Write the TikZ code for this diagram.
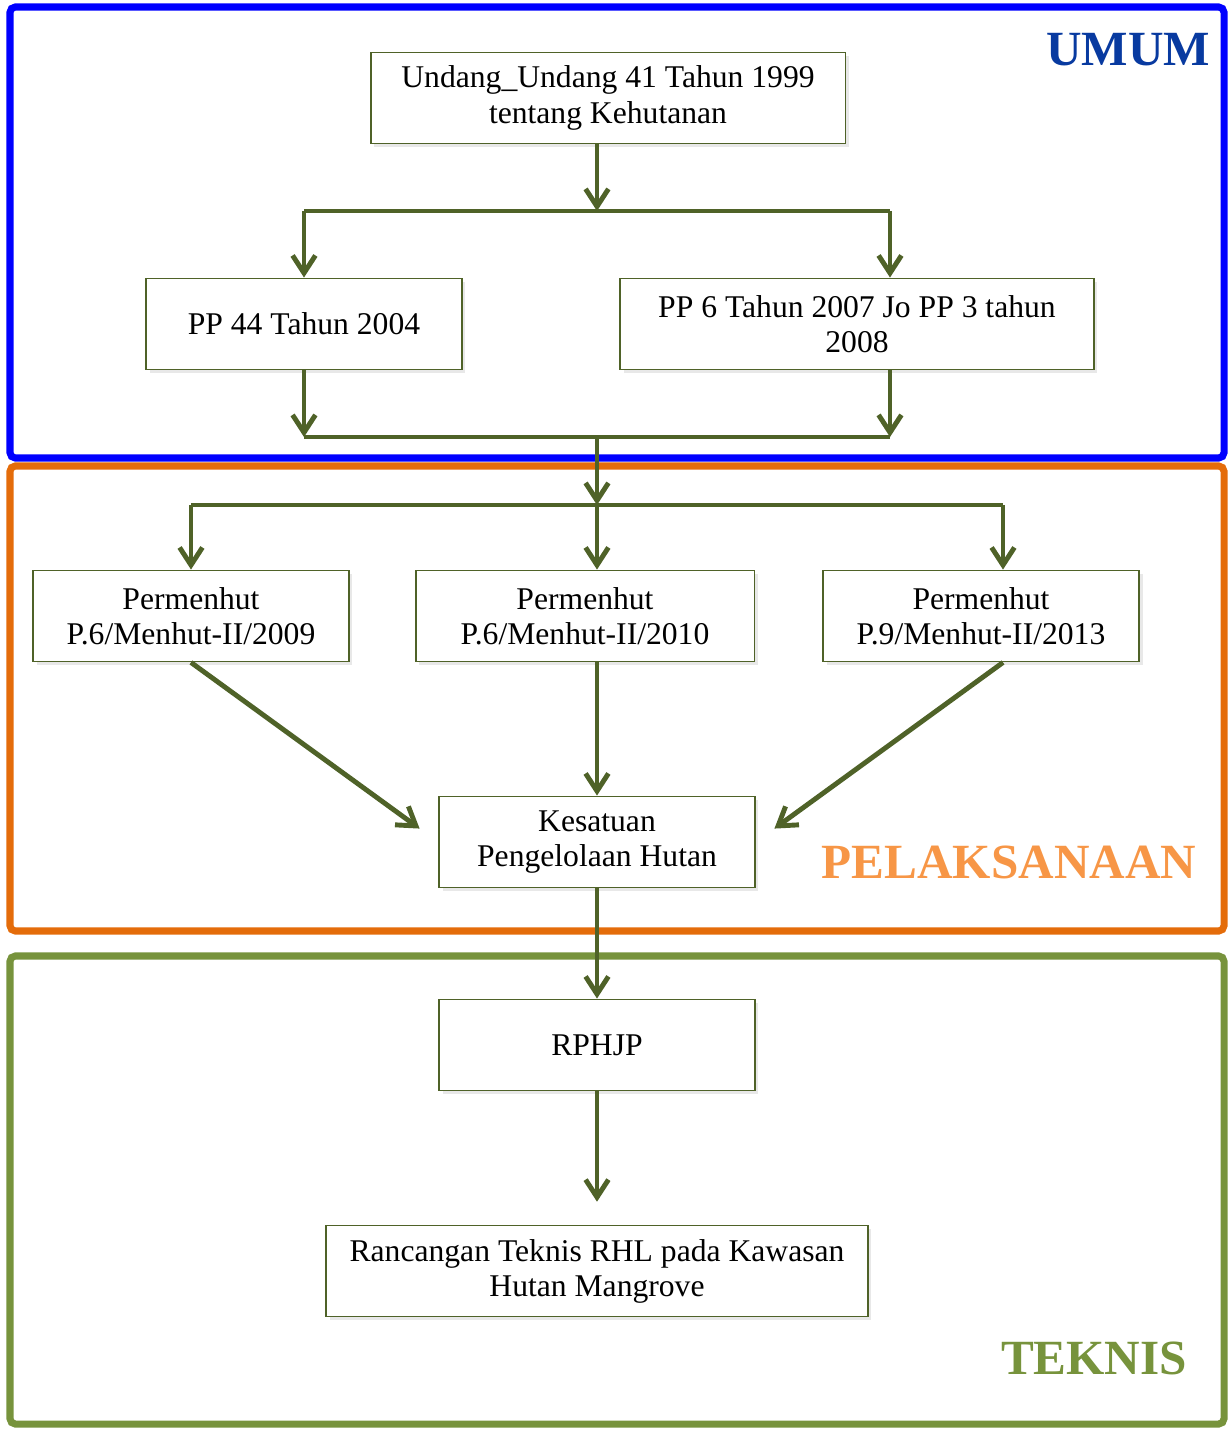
\documentclass[tikz,border=0pt]{standalone}
\usepackage{fontspec}
\setmainfont{Liberation Serif}
\definecolor{umumblue}{RGB}{0,0,255}
\definecolor{umumtext}{RGB}{8,58,160}
\definecolor{pelorange}{RGB}{228,108,10}
\definecolor{peltext}{RGB}{247,150,70}
\definecolor{tekgreen}{RGB}{119,147,60}
\definecolor{olive}{RGB}{79,98,40}
\usetikzlibrary{arrows.meta,positioning,shadows}

\begin{document}
\begin{tikzpicture}[
    x=0.02cm, y=-0.02cm,
    lawbox/.style={draw=olive, line width=1.1pt, fill=white, minimum height=1.82cm,
                align=center, font=\fontsize{18}{20}\selectfont,
                drop shadow={opacity=0.18, shadow xshift=2pt, shadow yshift=-2pt}},
    arr/.style={-{Straight Barb[length=10pt,width=13pt]}, line width=2.8pt, olive},
    link/.style={line width=2.8pt, olive},
    frame/.style={line width=4pt, rounded corners=3pt},
    tag/.style={font=\fontsize{28}{30}\selectfont\bfseries}
  ]
    \useasboundingbox (0,0) rectangle (1228,1429);

    % Section frames
    \draw[frame, draw=umumblue]  (10,7)   rectangle (1224,458);
    \draw[frame, draw=pelorange] (10,466) rectangle (1224,931);
    \draw[frame, draw=tekgreen]  (10,956) rectangle (1224,1424);

    % Section labels
    \node[tag, text=umumtext] (umum) at (1128,50)  {UMUM};
    \node[tag, text=peltext]  (pel)  at (1009,862) {PELAKSANAAN};
    \node[tag, text=tekgreen] (tek)  at (1094,1358) {TEKNIS};

    % Boxes
    \node[lawbox, minimum width=9.5cm]  (uu)   at (608,98)  {Undang\_Undang 41 Tahun 1999\\tentang Kehutanan};
    \node[lawbox, minimum width=6.32cm] (pp44) at (304,324) {PP 44 Tahun 2004};
    \node[lawbox, minimum width=9.48cm] (pp6)  at (857,324) {PP 6 Tahun 2007 Jo PP 3 tahun\\2008};
    \node[lawbox, minimum width=6.32cm] (p09)  at (191,616) {Permenhut\\P.6/Menhut-II/2009};
    \node[lawbox, minimum width=6.78cm] (p10)  at (585,616) {Permenhut\\P.6/Menhut-II/2010};
    \node[lawbox, minimum width=6.32cm] (p13)  at (981,616) {Permenhut\\P.9/Menhut-II/2013};
    \node[lawbox, minimum width=6.32cm] (kph)  at (597,842) {Kesatuan\\Pengelolaan Hutan};
    \node[lawbox, minimum width=6.32cm] (rph)  at (597,1045) {RPHJP};
    \node[lawbox, minimum width=10.84cm] (rhl) at (597,1271) {Rancangan Teknis RHL pada Kawasan\\Hutan Mangrove};

    % Junctions
    \coordinate (j1)  at (597,211);
    \coordinate (j1r) at (890,211);
    \coordinate (j2)  at (597,437);
    \coordinate (j2r) at (890,437);
    \coordinate (j3)  at (597,505);
    \coordinate (j3r) at (1003,505);

    % UU to PP
    \draw[arr]  (uu.south -| j1) -- (j1);
    \draw[link] (pp44.north |- j1) -- (j1r);
    \draw[arr]  (pp44.north |- j1) -- (pp44.north);
    \draw[arr]  (j1r) -- (j1r |- pp6.north);

    % PP to Permenhut
    \draw[arr]  (pp44.south) -- (pp44.south |- j2);
    \draw[arr]  (j2r |- pp6.south) -- (j2r);
    \draw[link] (pp44.south |- j2) -- (j2r);
    \draw[arr]  (j2) -- (j3);
    \draw[link] (p09.north |- j3) -- (j3r);
    \draw[arr]  (p09.north |- j3) -- (p09.north);
    \draw[arr]  (j3) -- (j3 |- p10.north);
    \draw[arr]  (j3r) -- (j3r |- p13.north);

    % Permenhut to KPH
    \draw[arr, shorten >=13pt] (p09.south) -- (kph.west);
    \draw[arr] (j3 |- p10.south) -- (kph.north);
    \draw[arr, shorten >=13pt] (j3r |- p13.south) -- (kph.east);

    % Teknis
    \draw[arr] (kph.south) -- (rph.north);
    \draw[arr, shorten >=13pt] (rph.south) -- (rhl.north);
\end{tikzpicture}
\end{document}
